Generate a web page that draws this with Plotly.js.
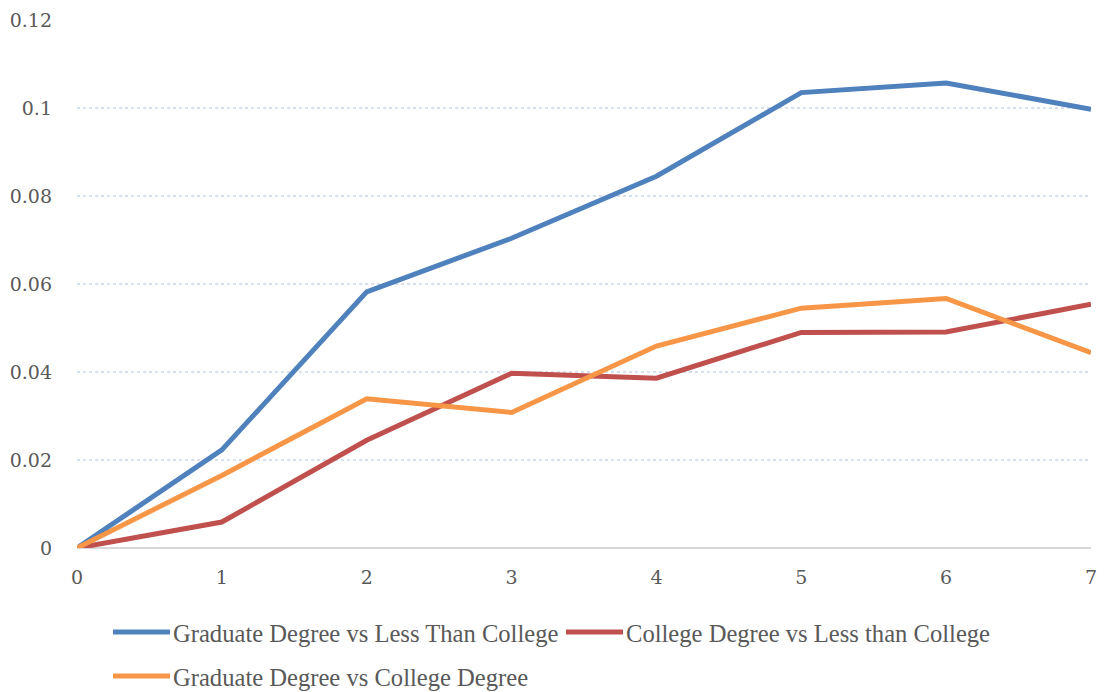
<!DOCTYPE html>
<html>
<head>
<meta charset="utf-8">
<script src="https://cdn.plot.ly/plotly-3.0.1.min.js"></script>
<style>
  html, body { margin: 0; padding: 0; background: #ffffff; }
  #chart { width: 1105px; height: 692px; }
</style>
</head>
<body>
<div id="chart"></div>
<script>
// Horizon (years) on the x axis
const years = [0, 1, 2, 3, 4, 5, 6, 7];

// Gap between education groups at each horizon
const gradVsLess = [0, 0.0223, 0.0582, 0.0704, 0.0845, 0.1035, 0.1057, 0.0997];
const collegeVsLess = [0, 0.0059, 0.0245, 0.0397, 0.0386, 0.0490, 0.0491, 0.0554];
const gradVsCollege = [0, 0.0165, 0.0339, 0.0308, 0.0459, 0.0545, 0.0567, 0.0444];

const seriesNames = [
  'Graduate Degree vs Less Than College',
  'College Degree vs Less than College',
  'Graduate Degree vs College Degree'
];

const yTicks = [0, 0.02, 0.04, 0.06, 0.08, 0.1, 0.12];
const yTickText = ['0', '0.02', '0.04', '0.06', '0.08', '0.1', '0.12'];

const textColor = '#595959';
const tickFont = '"DejaVu Serif", serif';
const legendFont = '"Liberation Serif", serif';

function lineTrace(y, name, color, legendId) {
  return {
    x: years, y: y, name: name, type: 'scatter', mode: 'lines',
    line: { color: color, width: 5 },
    legend: legendId, cliponaxis: false
  };
}

const traces = [
  lineTrace(gradVsLess, seriesNames[0], '#4f81bd', 'legend'),
  lineTrace(collegeVsLess, seriesNames[1], '#c0504d', 'legend'),
  lineTrace(gradVsCollege, seriesNames[2], '#f79646', 'legend2')
];

const legendStyle = {
  orientation: 'h',
  xref: 'container', yref: 'container',
  xanchor: 'left', yanchor: 'middle',
  bgcolor: 'rgba(0,0,0,0)',
  font: { family: legendFont, size: 24.6, color: textColor },
  itemwidth: 55,
  entrywidth: 383, entrywidthmode: 'pixels'
};

const layout = {
  width: 1105, height: 692,
  margin: { l: 77, r: 14, t: 20, b: 144, pad: 0 },
  paper_bgcolor: '#ffffff', plot_bgcolor: '#ffffff',
  showlegend: true,
  xaxis: {
    range: [0, 7], tickvals: years, ticks: '', showgrid: false,
    zeroline: false, showline: false, fixedrange: true,
    tickfont: { family: tickFont, size: 19, color: textColor },
    ticklabelstandoff: 16
  },
  yaxis: {
    range: [0, 0.12], tickvals: yTicks, ticktext: yTickText, ticks: '',
    showgrid: true, gridcolor: '#d6e0ee', griddash: 'dot', gridwidth: 1.3,
    zeroline: true, zerolinecolor: '#d9d9d9', zerolinewidth: 1.5,
    showline: false, fixedrange: true,
    tickfont: { family: tickFont, size: 19, color: textColor },
    ticklabelstandoff: 24
  },
  legend: Object.assign({}, legendStyle, { x: 108 / 1105, y: 1 - 632 / 692 }),
  legend2: Object.assign({}, legendStyle, { x: 108 / 1105, y: 1 - 676 / 692 })
};

Plotly.newPlot('chart', traces, layout, { displayModeBar: false, staticPlot: true })
  .then(function (gd) {
    // Stretch the legend line samples to span the wider symbol slot
    gd.querySelectorAll('.legendlines path').forEach(function (p) {
      p.setAttribute('d', 'M5,0h57');
    });
  });
</script>
</body>
</html>
